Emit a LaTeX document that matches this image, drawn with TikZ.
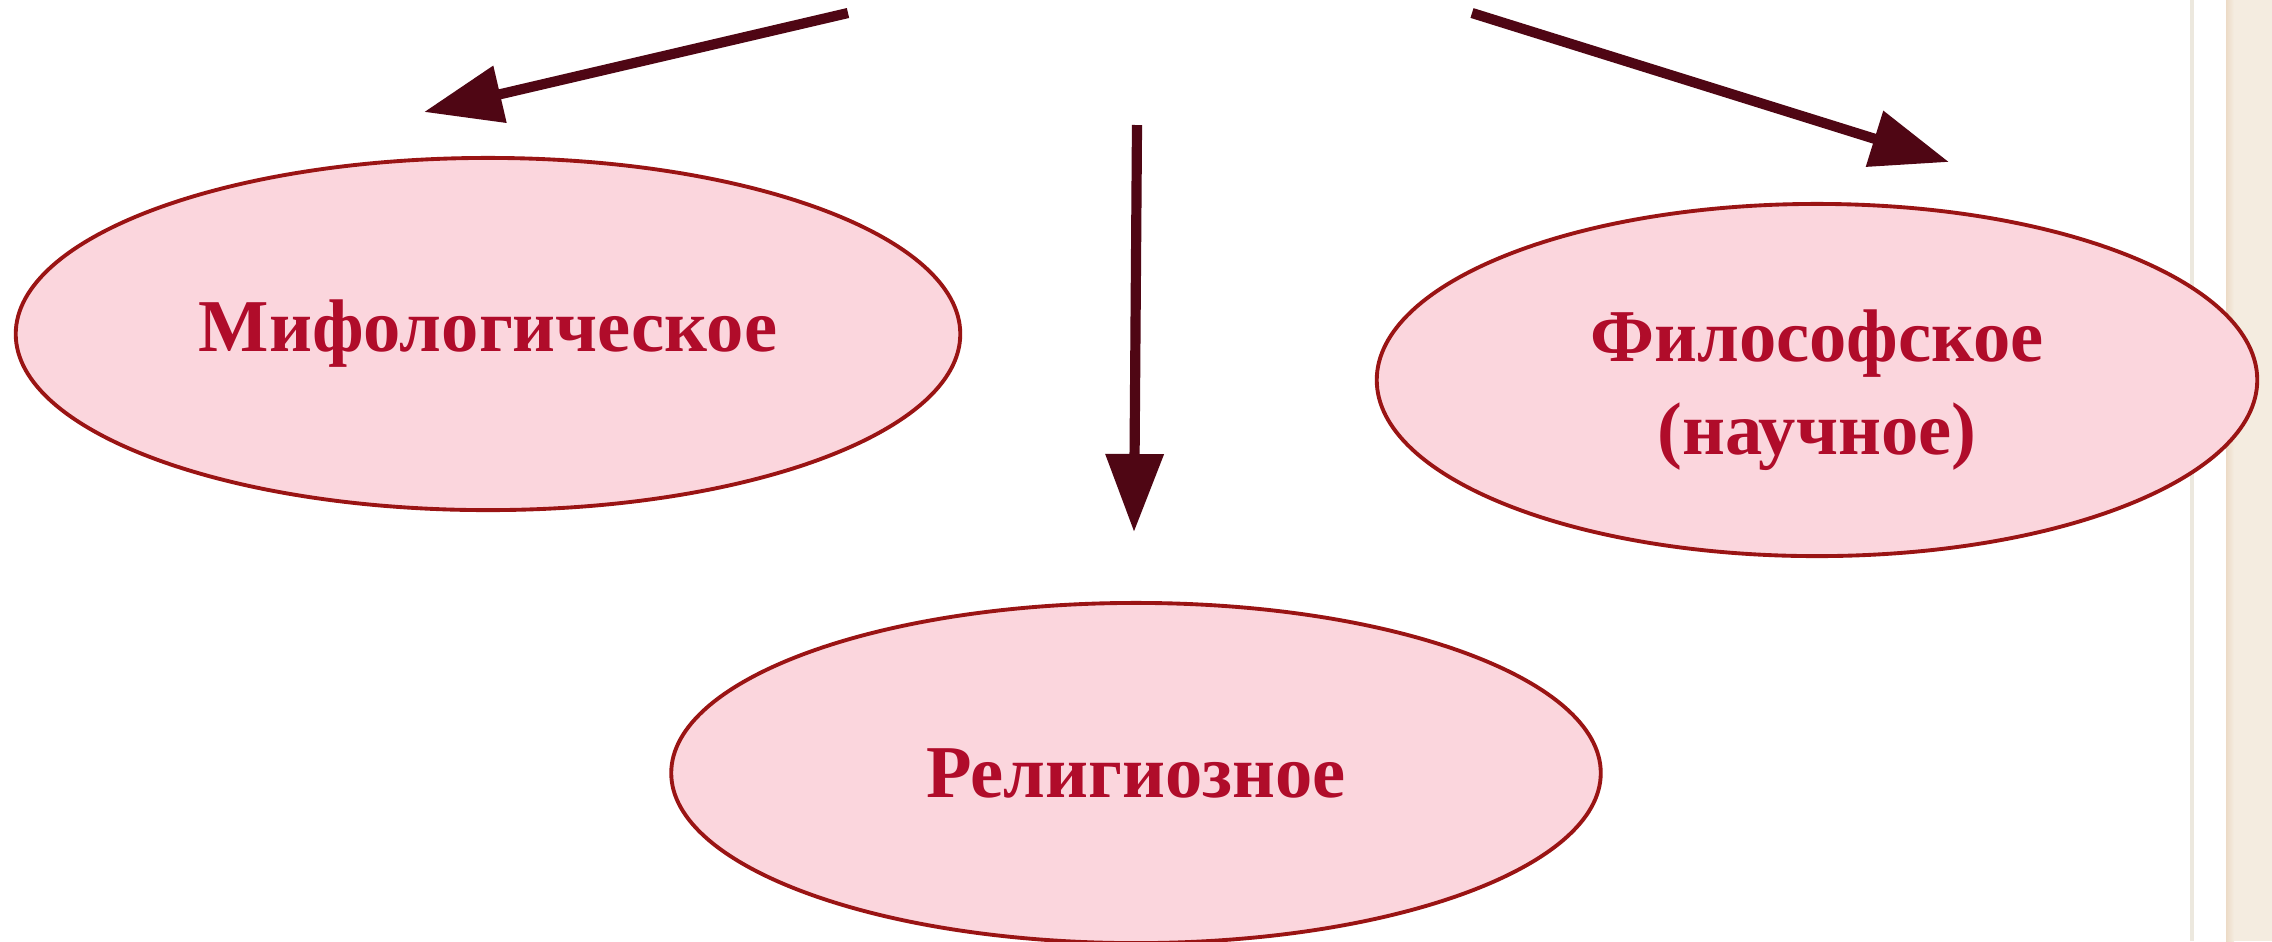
\documentclass[tikz,border=0pt]{standalone}
\usepackage{fontspec}
\setmainfont{Liberation Serif}
\usetikzlibrary{shapes.geometric,arrows.meta}
\definecolor{ellfill}{HTML}{FBD6DD}
\definecolor{elldraw}{HTML}{9A1414}
\definecolor{txtcol}{HTML}{B00C2A}
\definecolor{arrcol}{HTML}{4F0614}
\definecolor{stripcol}{HTML}{F4ECE0}
\definecolor{linecol}{HTML}{ECE8DE}
\tikzset{
  oval/.style={ellipse, draw=elldraw, line width=1.1pt, fill=ellfill, inner sep=0pt,
    text=txtcol, font=\fontsize{21.2}{26.5}\selectfont\bfseries, align=center},
  ovaltext/.style={inner sep=0pt, text=txtcol,
    font=\fontsize{21.2}{26.5}\selectfont\bfseries, align=center},
  bigarrow/.style={draw=arrcol, line width=2.9pt,
    -{Triangle[length=0.78cm,width=0.56cm]}}
}
\begin{document}
\begin{tikzpicture}[x=0.01cm,y=-0.01cm]
\useasboundingbox (0,0) rectangle (2272,941);
\fill[white] (0,0) rectangle (2272,941);
% right decoration
\fill[linecol] (2190,0) rectangle (2194,941);
\shade[left color=stripcol!80!brown!90, right color=stripcol] (2226,0) rectangle (2234,941);
\fill[stripcol] (2234,0) rectangle (2272,941);
\begin{scope}
\clip (0,0) rectangle (2272,941);
\node[oval, minimum width=9.44cm, minimum height=3.52cm] (myth) at (488,334) {Мифологическое};
\node[oval, minimum width=9.29cm, minimum height=3.40cm] (rel) at (1136,773) {Религиозное};
\node[oval, minimum width=8.80cm, minimum height=3.52cm] (phil) at (1817,380) {};
\node[ovaltext] (philtxt) at (1817,390) {Философское\\(научное)};
\end{scope}
\coordinate (s1) at (848,13);
\coordinate (t1) at (424,112);
\coordinate (s2) at (1137,125);
\coordinate (t2) at (1134,532);
\coordinate (s3) at (1472,13);
\coordinate (t3) at (1949,162);
\draw[bigarrow] (s1) -- (t1);
\draw[bigarrow] (s2) -- (t2);
\draw[bigarrow] (s3) -- (t3);
\end{tikzpicture}
\end{document}
